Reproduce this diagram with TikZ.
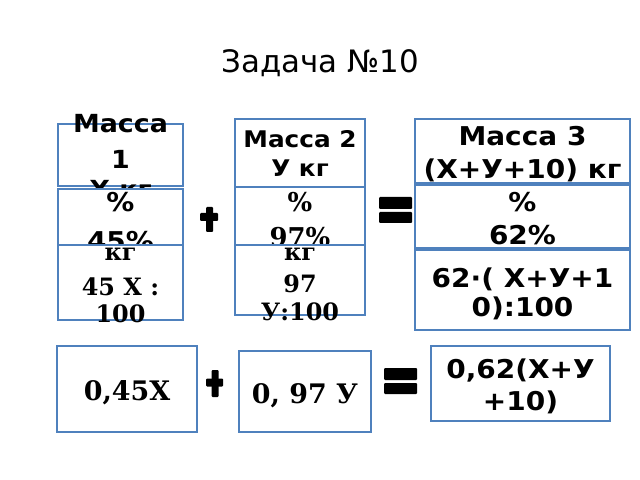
\documentclass[tikz,border=0pt]{standalone}
\usepackage{fontspec}
\setmainfont{DejaVu Sans}
\newfontfamily\sansbold[FakeStretch=1.08]{DejaVu Sans}
\newfontfamily\serifbold{DejaVu Serif}
\definecolor{boxblue}{RGB}{79,129,189}
\tikzset{
  box/.style={draw=boxblue, line width=1.5bp, fill=white, inner sep=0pt},
  sb/.style={anchor=base, inner sep=0pt, font=\sansbold\bfseries\fontsize{#1}{#1}\selectfont},
  rb/.style={anchor=base, inner sep=0pt, font=\serifbold\bfseries\fontsize{#1}{#1}\selectfont},
  sign/.style={fill=black, rounded corners=1bp}
}
\begin{document}
\begin{tikzpicture}[x=1bp,y=-1bp]
\useasboundingbox (0,0) rectangle (640,480);
% title
\node[anchor=base, inner sep=0pt, font=\fontsize{31}{31}\selectfont] (title) at (320,73) {Задача №10};

% column 1
\node[box, minimum width=125bp, minimum height=62bp] (m1) at (120.5,155) {};
\node[sb=25] (m1a) at (120.5,133) {Масса};
\node[sb=25] (m1b) at (120.5,169) {1};
\node[sb=25] (m1c) at (120.5,199) {Х кг};
\node[box, minimum width=125bp, minimum height=56bp] (p1) at (120.5,217) {};
\node[sb=26] (p1a) at (120.5,211.5) {\%};
\node[sb=26] (p1b) at (120.5,251) {45\%};
\node[box, minimum width=125bp, minimum height=75bp] (k1) at (120.5,282.5) {};
\node[rb=24] (k1a) at (120.5,260) {кг};
\node[rb=24] (k1b) at (120.5,295) {45 Х :};
\node[rb=24] (k1c) at (120.5,322) {100};

% column 2
\node[box, minimum width=130bp, minimum height=68bp] (m2) at (300,153) {};
\node[sb=23] (m2a) at (300,148) {Масса 2};
\node[sb=23] (m2b) at (300,177) {У кг};
\node[box, minimum width=130bp, minimum height=58bp] (p2) at (300,216) {};
\node[rb=26] (p2a) at (300,212) {\%};
\node[rb=26] (p2b) at (300,247) {97\%};
\node[box, minimum width=130bp, minimum height=70bp] (k2) at (300,280) {};
\node[rb=24] (k2a) at (300,260) {кг};
\node[rb=24] (k2b) at (300,292) {97};
\node[rb=24] (k2c) at (300,320) {У:100};

% column 3
\node[box, minimum width=215bp, minimum height=64bp] (m3) at (522.5,151) {};
\node[sb=26] (m3a) at (522.5,146) {Масса 3};
\node[sb=26] (m3b) at (522.5,179) {(Х+У+10) кг};
\node[box, minimum width=215bp, minimum height=63bp] (p3) at (522.5,216.5) {};
\node[sb=26] (p3a) at (522.5,212) {\%};
\node[sb=26] (p3b) at (522.5,245) {62\%};
\node[box, minimum width=215bp, minimum height=80bp] (k3) at (522.5,290) {};
\node[sb=26] (k3a) at (522.5,287) {62·( Х+У+1};
\node[sb=26] (k3b) at (522.5,316) {0):100};

% bottom row
\node[box, minimum width=140bp, minimum height=86bp] (r1) at (127,389) {};
\node[rb=27] (r1a) at (127,400) {0,45Х};
\node[box, minimum width=132bp, minimum height=81bp] (r2) at (305,391.5) {};
\node[rb=27] (r2a) at (305,403) {0, 97 У};
\node[box, minimum width=179bp, minimum height=75bp] (r3) at (520.5,383.5) {};
\node[sb=26] (r3a) at (520.5,378) {0,62(Х+У};
\node[sb=26] (r3b) at (520.5,410) {+10)};

% plus signs
\fill[sign] (206,207) rectangle (213,232);
\fill[sign] (200,213) rectangle (218,221);
\fill[sign] (211.5,370) rectangle (218.5,397);
\fill[sign] (206,378.5) rectangle (223,386.5);
% equals signs
\fill[sign] (379,197) rectangle (412,209);
\fill[sign] (379,212) rectangle (412,223);
\fill[sign] (384,368) rectangle (417,380);
\fill[sign] (384,383) rectangle (417,394);
\end{tikzpicture}
\end{document}
